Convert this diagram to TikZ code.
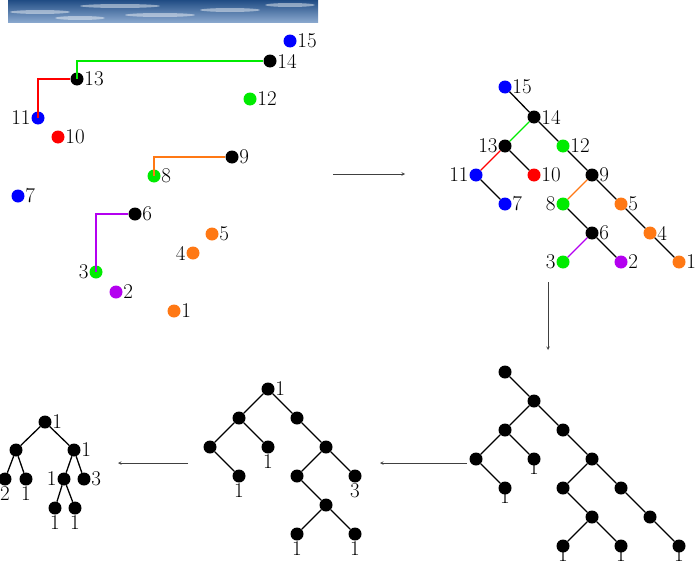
\documentclass[tikz,border=0pt]{standalone}
\usepackage{fontspec}
\usetikzlibrary{positioning}
\definecolor{pgreen}{RGB}{0,235,0}
\definecolor{porange}{RGB}{255,120,20}
\definecolor{ppurple}{RGB}{180,0,240}
\definecolor{skyblue}{RGB}{40,95,165}
\tikzset{
  dot/.style={circle,fill=#1,inner sep=0pt,minimum size=13pt},
  dot/.default=black,
  edge/.style={line width=1.3pt,draw=#1},
  edge/.default=black,
  step arrow/.style={->,>=stealth,gray!50!black,semithick},
  every label/.style={inner sep=0.5pt,font=\fontsize{21}{24}\selectfont},
  num/.style={font=\fontsize{21}{24}\selectfont},
}
\begin{document}
\begin{tikzpicture}[x=1pt,y=-1pt]
	\useasboundingbox (0,0) rectangle (696,570);
	% Sky strip
	\shade[top color=skyblue!80!black,bottom color=skyblue!55!white] (8,0) rectangle (318,22);
	\foreach \cx/\cy/\w in {40/12/30,120/6/40,160/15/35,230/10/30,290/5/25,80/18/25}
		\fill[white,opacity=0.45] (\cx,\cy) ellipse ({\w pt} and 2pt);

	% Scattered points
	\foreach \n/\px/\py/\c/\s in {15/290/41/blue/right,14/270/61/black/right,13/77/79/black/right,
			12/250/99/pgreen/right,11/38/118/blue/left,10/58/137/red/right,9/232/157/black/right,
			8/154/176/pgreen/right,7/18/196/blue/right,6/135/214/black/right,5/212/234/porange/right,
			4/193/253/porange/left,3/96/272/pgreen/left,2/116/292/ppurple/right,1/174/311/porange/right}
		\node[dot=\c,label=\s:\n] (p\n) at (\px,\py) {};
	\draw[edge=pgreen] (p13.center) |- (p14);
	\draw[edge=red] (p11.center) |- (p13);
	\draw[edge=porange] (p8.center) |- (p9);
	\draw[edge=ppurple] (p3.center) |- (p6);

	% Coloured tree
	\foreach \n/\px/\py/\c/\s in {15/505/87/blue/right,14/534/117/black/right,13/505/146/black/left,
			12/563/146/pgreen/right,11/476/175/blue/left,10/534/175/red/right,9/592/175/black/right,
			7/505/204/blue/right,8/563/204/pgreen/left,5/621/204/porange/right,6/592/233/black/right,
			4/650/233/porange/right,3/563/262/pgreen/left,2/621/262/ppurple/right,1/679/262/porange/right}
		\node[dot=\c,label=\s:\n] (t\n) at (\px,\py) {};
	\foreach \a/\b/\c in {15/14/black,14/13/pgreen,14/12/black,13/11/red,13/10/black,11/7/black,
			12/9/black,9/8/porange,9/5/black,8/6/black,5/4/black,6/3/ppurple,6/2/black,4/1/black}
		\draw[edge=\c] (t\a) -- (t\b);

	% Black tree
	\foreach \n/\px/\py in {15/505/372,14/534/401,13/505/430,12/563/430,11/476/459,10/534/459,
			9/592/459,7/505/488,8/563/488,5/621/488,6/592/517,4/650/517,3/563/546,2/621/546,1/679/546}
		\node[dot] (b\n) at (\px,\py) {};
	\foreach \a/\b in {15/14,14/13,14/12,13/11,13/10,11/7,12/9,9/8,9/5,8/6,5/4,6/3,6/2,4/1}
		\draw[edge] (b\a) -- (b\b);
	\foreach \n in {10,7,3,2,1}
		\node[num,below=-6pt of b\n,inner sep=1pt] (bl\n) {1};

	% Reduced tree
	\node[dot,label=right:1] (m1) at (268,389) {};
	\node[dot] (m2) at (239,418) {};
	\node[dot] (m3) at (297,418) {};
	\node[dot] (m4) at (210,447) {};
	\node[dot,label=below:1] (m5) at (268,447) {};
	\node[dot] (m6) at (326,447) {};
	\node[dot,label=below:1] (m7) at (239,476) {};
	\node[dot] (m8) at (297,476) {};
	\node[dot,label=below:3] (m9) at (355,476) {};
	\node[dot] (m10) at (326,505) {};
	\node[dot,label=below:1] (m11) at (297,534) {};
	\node[dot,label=below:1] (m12) at (355,534) {};
	\foreach \a/\b in {1/2,1/3,2/4,2/5,4/7,3/6,6/8,6/9,8/10,10/11,10/12}
		\draw[edge] (m\a) -- (m\b);

	% Compact tree
	\node[dot,label=right:1] (s1) at (45,422) {};
	\node[dot] (s2) at (16,450) {};
	\node[dot,label=right:1] (s3) at (74,450) {};
	\node[dot,label=below:2] (s4) at (5,479) {};
	\node[dot,label=below:1] (s5) at (26,479) {};
	\node[dot,label=left:1] (s6) at (64,479) {};
	\node[dot,label=right:3] (s7) at (84,479) {};
	\node[dot,label=below:1] (s8) at (55,508) {};
	\node[dot,label=below:1] (s9) at (75,508) {};
	\foreach \a/\b in {1/2,1/3,2/4,2/5,3/6,3/7,6/8,6/9}
		\draw[edge] (s\a) -- (s\b);

	% Steps
	\coordinate (a1) at (333,174); \coordinate (a2) at (405,174);
	\coordinate (a3) at (548,282); \coordinate (a4) at (548,350);
	\coordinate (a5) at (467,463); \coordinate (a6) at (380,463);
	\coordinate (a7) at (188,463); \coordinate (a8) at (118,463);
	\draw[step arrow] (a1) -- (a2);
	\draw[step arrow] (a3) -- (a4);
	\draw[step arrow] (a5) -- (a6);
	\draw[step arrow] (a7) -- (a8);
\end{tikzpicture}
\end{document}
